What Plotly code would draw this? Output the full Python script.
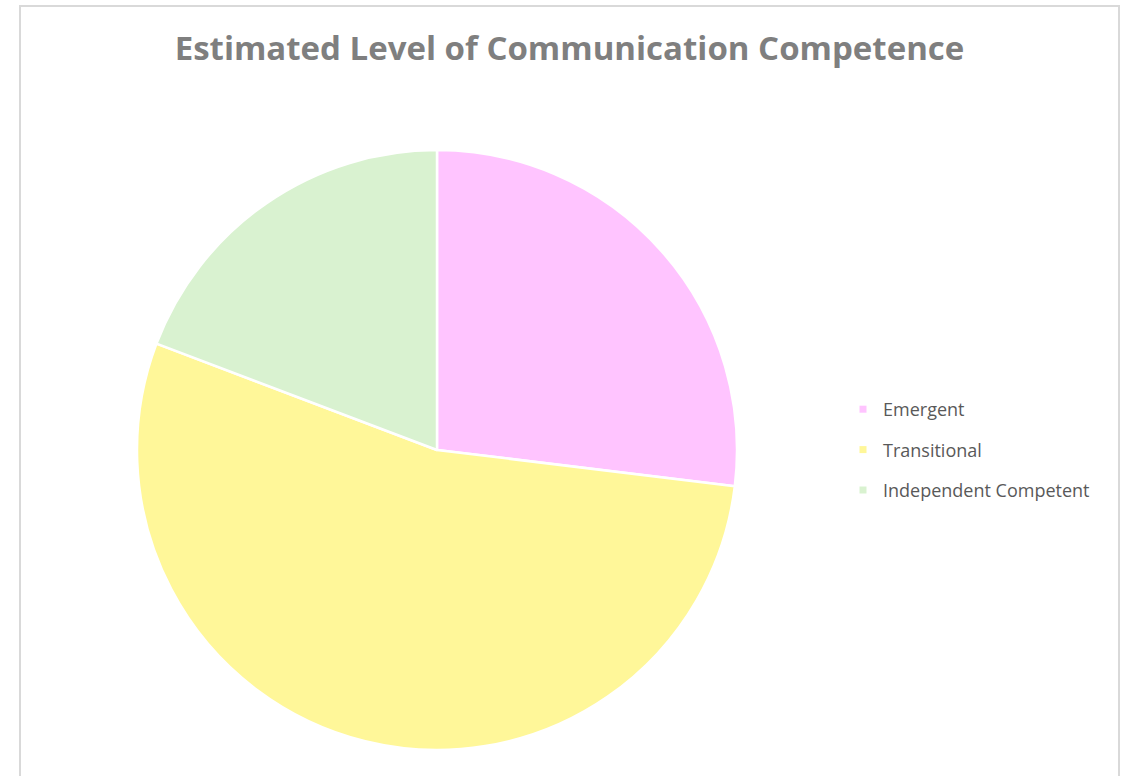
import plotly.graph_objects as go

categories = ["Emergent", "Transitional", "Independent Competent"]
counts = [7, 14, 5]
colors = ["#FFC4FF", "#FFF799", "#D9F2D0"]

W, H = 1127, 776
cx, cy, r = 437, 450, 300

fig = go.Figure()
fig.add_trace(go.Pie(
    labels=categories,
    values=counts,
    sort=False,
    direction="clockwise",
    rotation=0,
    textinfo="none",
    hoverinfo="label+value+percent",
    showlegend=False,
    marker=dict(colors=colors, line=dict(color="white", width=2.5)),
    domain=dict(x=[(cx - r) / W, (cx + r) / W],
                y=[(H - cy - r) / H, (H - cy + r) / H]),
))

# legend entries (one per slice) so that the row spacing can match
for cat, col in zip(categories, colors):
    fig.add_trace(go.Scatter(
        x=[None], y=[None], mode="markers", name=cat, legendgroup=cat,
        marker=dict(symbol="square", size=7, color=col),
        hoverinfo="skip",
    ))

fig.update_layout(
    width=W, height=H,
    margin=dict(l=0, r=0, t=0, b=0),
    paper_bgcolor="white",
    plot_bgcolor="white",
    xaxis=dict(visible=False),
    yaxis=dict(visible=False),
    title=dict(text="<b>Estimated Level of Communication Competence</b>",
               x=569.5 / W, xanchor="center", y=1 - 48 / H, yanchor="middle",
               font=dict(family="Open Sans", size=33, color="#7F7F7F")),
    legend=dict(x=843 / W, xanchor="left", y=1 - 450 / H, yanchor="middle",
                font=dict(family="Open Sans", size=18, color="#595959"),
                itemwidth=30, tracegroupgap=14, bgcolor="rgba(0,0,0,0)"),
    shapes=[dict(type="rect", xref="paper", yref="paper",
                 x0=20 / W, x1=1119 / W, y0=-0.01, y1=1 - 6 / H,
                 line=dict(color="#D9D9D9", width=2), fillcolor="rgba(0,0,0,0)",
                 layer="below")],
)

fig.write_html("out.html")
